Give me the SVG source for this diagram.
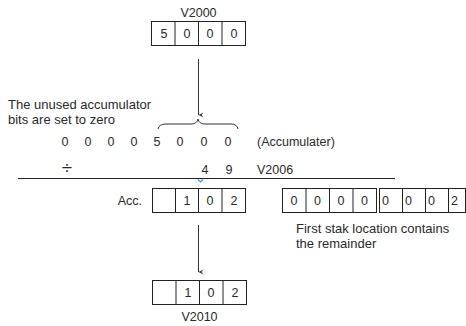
<svg xmlns="http://www.w3.org/2000/svg" width="466" height="326" viewBox="0 0 466 326">
<defs>
<style>
text{font-family:"Liberation Sans","Open Sans",sans-serif;font-size:12.5px;fill:#2a2a2a}
.lbl{font-size:13px}
.m{text-anchor:middle}
.e{text-anchor:end}
.box{fill:#fff;stroke:#222;stroke-width:1}
.div{stroke:#222;stroke-width:1}
.ln{stroke:#333;stroke-width:1;fill:none}
</style>
<marker id="ah" markerWidth="8" markerHeight="8" refX="3" refY="7" orient="auto" markerUnits="userSpaceOnUse" viewBox="0 0 6 8">
<path d="M0.5,2 L3,7 L5.5,2 L3,4 Z" fill="#333"/>
</marker>
</defs>

<g id="v2000">
<text class="m" x="198.5" y="17">V2000</text>
<rect class="box" x="151.5" y="21.5" width="94" height="24"/>
<path class="div" d="M175,21.5V45.5M198.5,21.5V45.5M222,21.5V45.5"/>
<text class="m" x="164" y="38">5</text>
<text class="m" x="187" y="38">0</text>
<text class="m" x="210" y="38">0</text>
<text class="m" x="234" y="38">0</text>
</g>

<g id="note-unused">
<text class="lbl" x="8" y="109">The unused accumulator</text>
<text class="lbl" x="8" y="124">bits are set to zero</text>
</g>

<g id="accumulator-row">
<text class="m" x="65" y="146">0</text>
<text class="m" x="88" y="146">0</text>
<text class="m" x="111" y="146">0</text>
<text class="m" x="134" y="146">0</text>
<text class="m" x="157" y="146">5</text>
<text class="m" x="180" y="146">0</text>
<text class="m" x="204" y="146">0</text>
<text class="m" x="228" y="146">0</text>
<text x="257" y="146">(Accumulater)</text>
</g>

<g id="divisor-row">
<text class="m" x="67" y="174" style="font-size:19px">÷</text>
<text class="m" x="205" y="174">4</text>
<text class="m" x="229" y="174">9</text>
<text x="257" y="174">V2006</text>
</g>

<g id="acc">
<text class="e" x="142" y="205">Acc.</text>
<rect class="box" x="152.5" y="188.5" width="93" height="24"/>
<path class="div" d="M175.5,188.5V212.5M198.5,188.5V212.5M222,188.5V212.5"/>
<text class="m" x="187" y="205">1</text>
<text class="m" x="210" y="205">0</text>
<text class="m" x="234" y="205">2</text>
</g>

<g id="stack">
<rect class="box" x="282.5" y="188.5" width="94" height="24"/>
<path class="div" d="M306,188.5V212.5M329.5,188.5V212.5M353,188.5V212.5"/>
<rect class="box" x="379.5" y="188.5" width="86" height="24"/>
<path class="div" d="M402.5,188.5V212.5M425.5,188.5V212.5M448.5,188.5V212.5"/>
<text class="m" x="294" y="205">0</text>
<text class="m" x="317.5" y="205">0</text>
<text class="m" x="341" y="205">0</text>
<text class="m" x="364.5" y="205">0</text>
<text x="382" y="205">0</text>
<text x="405" y="205">0</text>
<text x="428" y="205">0</text>
<text x="451" y="205">2</text>
<text class="lbl" x="296" y="233">First stak location contains</text>
<text class="lbl" x="296" y="248">the remainder</text>
</g>

<g id="v2010">
<rect class="box" x="152.5" y="280.5" width="94" height="24"/>
<path class="div" d="M176,280.5V304.5M199.5,280.5V304.5M223,280.5V304.5"/>
<text class="m" x="188" y="297">1</text>
<text class="m" x="211" y="297">0</text>
<text class="m" x="235" y="297">2</text>
<text class="m" x="199.5" y="321">V2010</text>
</g>

<g id="connectors">
<line class="ln" x1="198.5" y1="59" x2="198.5" y2="115" marker-end="url(#ah)"/>
<path class="ln" d="M158,129 Q159,124 166,124 L191,124 Q197,124 198,119 Q199,124 205,124 L231,124 Q237,124 238,129"/>
<line x1="18" y1="178.5" x2="395" y2="178.5" stroke="#222" stroke-width="1.2"/>
<path d="M198,179.5 L200.5,182 L203,179.5" fill="none" stroke="#3aa0d8" stroke-width="1.2"/>
<line class="ln" x1="198.5" y1="225" x2="198.5" y2="272" marker-end="url(#ah)"/>
</g>
</svg>
